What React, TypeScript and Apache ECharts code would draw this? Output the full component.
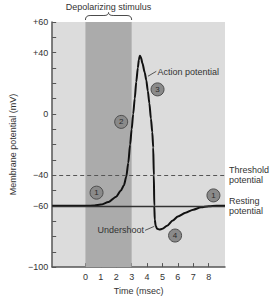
import React, { useEffect, useRef } from "react";
import * as echarts from "echarts";

// ---- data ----
const timeMs = [
  -2.16, 0, 0.6, 1.0, 1.5, 2.0, 2.3, 2.5, 2.65, 2.78, 2.9, 3.0, 3.1, 3.2, 3.3, 3.4, 3.47, 3.53, 3.6, 3.7,
  3.85, 3.95, 4.05, 4.15, 4.25, 4.34, 4.4, 4.44, 4.47, 4.5, 4.56, 4.65, 4.8, 5.0, 5.3, 5.67, 6.0, 6.5,
  7.0, 7.5, 8.0, 8.5, 9.06,
];
const voltage = [
  -60, -60, -59.8, -59.2, -57.5, -54, -50, -46.5, -41, -32, -20, -10, 0, 10, 21, 30, 35.5, 38, 37, 33,
  27, 22, 15, 7, -3, -12, -22, -40, -60, -69, -73, -75, -75.5, -75, -73, -69.5, -67, -64.5, -62.5,
  -61, -60.3, -60, -60,
];
const xTickValues = [0, 1, 2, 3, 4, 5, 6, 7, 8];
const yTickValues = [-100, -90, -80, -70, -60, -50, -40, -30, -20, -10, 0, 10, 20, 30, 40, 50, 60];
const yLabelValues = [60, 40, 0, -40, -60, -100];
const stimulusStart = 0;
const stimulusEnd = 3;
const thresholdMv = -40;
const restingMv = -60;
const markerLabels = ["1", "2", "3", "4", "1"];
const markerTime = [0.72, 2.32, 4.68, 5.82, 8.31];
const markerMv = [-51.4, -5.2, 16, -79.4, -53.2];

const FONT = "Liberation Sans, Arial, sans-serif";
const TXT = "#333";

export default function App() {
  const ref = useRef<HTMLDivElement>(null);

  useEffect(() => {
    if (!ref.current) return;
    echarts.graphic.registerShape(
      "brace",
      echarts.graphic.extendPath(
        "M0,7.5 Q0,3 5,3 L20,3 Q25,3 25,0 Q25,3 30,3 L45,3 Q50,3 50,7.5",
        {}
      )
    );
    const chart = echarts.init(ref.current, undefined, { renderer: "svg" });
    const option: any = {
      animation: false,
      textStyle: { fontFamily: FONT },
      grid: {
        left: 38,
        top: 22,
        right: 47,
        bottom: 31,
        show: true,
        backgroundColor: "#dcdcdc",
        borderWidth: 0,
      },
      xAxis: {
        type: "value",
        min: -2.16,
        max: 9.06,
        name: "Time (msec)",
        nameLocation: "middle",
        nameGap: 18,
        nameTextStyle: { color: TXT, fontSize: 9, fontFamily: FONT },
        splitLine: { show: false },
        axisLine: { onZero: false, lineStyle: { color: "#555", width: 1.5 } },
        axisTick: {
          inside: true,
          length: 4,
          customValues: xTickValues,
          lineStyle: { color: "#555" },
        },
        axisLabel: {
          customValues: xTickValues,
          color: TXT,
          fontSize: 9,
          margin: 5,
          fontFamily: FONT,
        },
      },
      yAxis: {
        type: "value",
        min: -100,
        max: 60,
        interval: 10,
        name: "Membrane potential (mV)",
        nameLocation: "middle",
        nameGap: 30,
        nameTextStyle: { color: TXT, fontSize: 9, fontFamily: FONT },
        splitLine: { show: false },
        axisLine: { show: true, onZero: false, lineStyle: { color: "#555", width: 1.5 } },
        axisTick: {
          show: true,
          inside: true,
          length: 4,
          customValues: yTickValues,
          lineStyle: { color: "#555" },
        },
        axisLabel: {
          customValues: yLabelValues,
          color: TXT,
          fontSize: 9,
          margin: 4,
          fontFamily: FONT,
          formatter: (v: number) => (v > 0 ? "+" + v : v < 0 ? "\u2212" + Math.abs(v) : "0"),
        },
      },
      series: [
        {
          type: "line",
          data: [],
          z: 1,
          markArea: {
            silent: true,
            itemStyle: { color: "#ababab", opacity: 1 },
            data: [[{ xAxis: stimulusStart }, { xAxis: stimulusEnd }]],
          },
        },
        {
          type: "line",
          data: [],
          z: 2,
          markLine: {
            silent: true,
            symbol: ["none", "none"],
            label: {
              show: true,
              position: "end",
              distance: 4,
              color: TXT,
              fontSize: 9,
              lineHeight: 10.5,
              fontFamily: FONT,
            },
            data: [
              {
                yAxis: thresholdMv,
                lineStyle: { type: [4, 3], color: "#555", width: 1 },
                label: { formatter: "Threshold\npotential" },
              },
              {
                yAxis: restingMv,
                lineStyle: { type: "solid", color: "#333", width: 1.3 },
                label: { formatter: "Resting\npotential" },
              },
            ],
          },
        },
        {
          type: "line",
          z: 3,
          data: timeMs.map((t, i) => [t, voltage[i]]),
          symbol: "none",
          smooth: 0.25,
          smoothMonotone: "x",
          lineStyle: { color: "#111", width: 2 },
        },
        {
          type: "scatter",
          z: 4,
          data: markerTime.map((t, i) => ({ value: [t, markerMv[i]], name: markerLabels[i] })),
          symbolSize: 13,
          itemStyle: { color: "#8a8a8a", borderColor: "#4d4d4d", borderWidth: 1, opacity: 1 },
          label: {
            show: true,
            position: "inside",
            formatter: (p: any) => p.name,
            color: "#2a2a2a",
            fontSize: 8,
            fontFamily: FONT,
          },
        },
      ],
    };
    chart.setOption(option);

    const px = (t: number, v: number) => chart.convertToPixel({ gridIndex: 0 }, [t, v]) as number[];
    const b0 = px(stimulusStart, 60);
    const b1 = px(stimulusEnd, 60);
    const ap0 = px(4.06, 24.6);
    const ap1 = px(4.6, 27.8);
    const us0 = px(3.87, -76);
    const us1 = px(4.47, -73.4);
    const apText = px(4.68, 27.6);
    const usText = px(3.8, -76);

    chart.setOption({
      graphic: [
        {
          type: "text",
          z: 100,
          x: (b0[0] + b1[0]) / 2,
          y: 7,
          style: {
            text: "Depolarizing stimulus",
            fill: TXT,
            font: `9px ${FONT}`,
            align: "center",
            verticalAlign: "middle",
          },
        },
        {
          type: "brace",
          z: 100,
          x: b0[0],
          y: b0[1] - 9.5,
          scaleX: (b1[0] - b0[0]) / 50,
          scaleY: 1,
          style: { stroke: "#444", fill: "none", lineWidth: 1, strokeNoScale: true },
        },
        {
          type: "line",
          z: 100,
          shape: { x1: ap0[0], y1: ap0[1], x2: ap1[0], y2: ap1[1] },
          style: { stroke: "#333", lineWidth: 0.8 },
        },
        {
          type: "text",
          z: 100,
          x: apText[0],
          y: apText[1],
          style: {
            text: "Action potential",
            fill: TXT,
            font: `9px ${FONT}`,
            align: "left",
            verticalAlign: "middle",
          },
        },
        {
          type: "line",
          z: 100,
          shape: { x1: us0[0], y1: us0[1], x2: us1[0], y2: us1[1] },
          style: { stroke: "#333", lineWidth: 0.8 },
        },
        {
          type: "text",
          z: 100,
          x: usText[0],
          y: usText[1],
          style: {
            text: "Undershoot",
            fill: TXT,
            font: `9px ${FONT}`,
            align: "right",
            verticalAlign: "middle",
          },
        },
      ],
    });

    return () => chart.dispose();
  }, []);

  return (
    <div
      ref={ref}
      style={{ position: "fixed", left: 0, top: 0, width: 272, height: 300, background: "#fff" }}
    />
  );
}
